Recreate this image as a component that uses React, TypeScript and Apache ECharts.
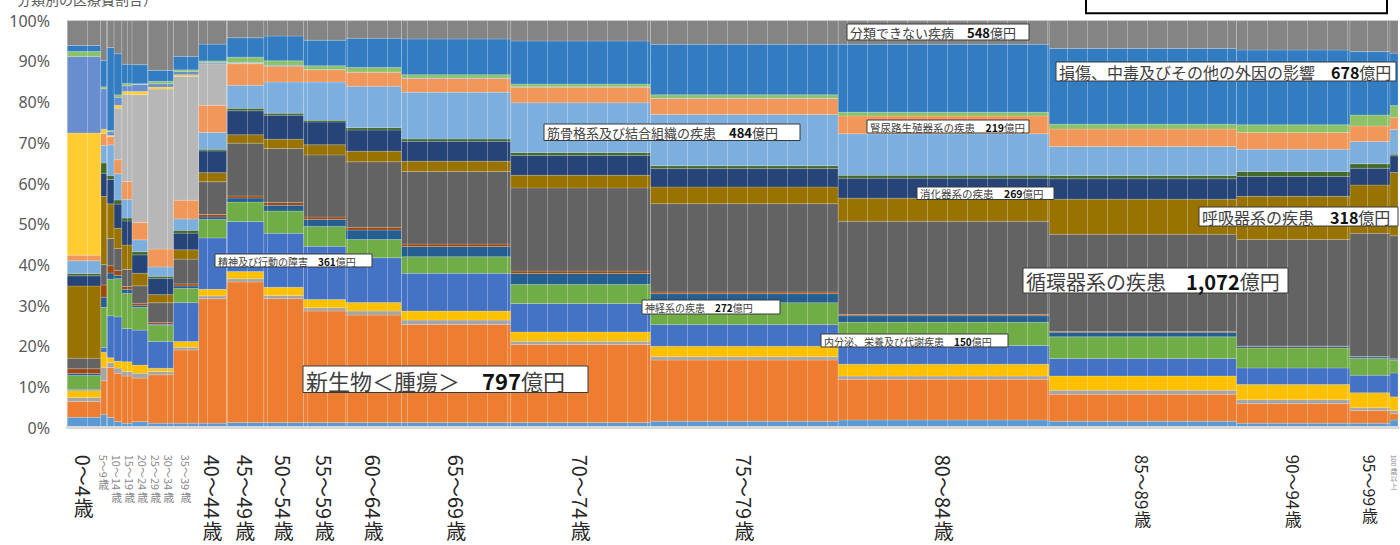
import React, { useEffect, useRef } from 'react';
import * as echarts from 'echarts';

// ---------------- data ----------------
const ageGroups = ['0～4歳', '5～9歳', '10～14歳', '15～19歳', '20～24歳', '25～29歳', '30～34歳', '35～39歳', '40～44歳', '45～49歳', '50～54歳', '55～59歳', '60～64歳', '65～69歳', '70～74歳', '75～79歳', '80～84歳', '85～89歳', '90～94歳', '95～99歳', '100歳以上'];

// medical cost per age group (億円, read from the column widths)
const costOku = [139, 25, 30, 32, 42, 66, 104, 104, 115, 154, 164, 174, 229, 450, 576, 773, 869, 772, 467, 165, 33];

const categoryNames = [
  '感染症及び寄生虫症', '新生物＜腫瘍＞', '血液及び造血器の疾患並びに免疫機構の障害', '内分泌、栄養及び代謝疾患',
  '精神及び行動の障害', '神経系の疾患', '眼及び付属器の疾患', '耳及び乳様突起の疾患', '循環器系の疾患',
  '呼吸器系の疾患', '消化器系の疾患', '皮膚及び皮下組織の疾患', '筋骨格系及び結合組織の疾患', '腎尿路生殖器系の疾患',
  '妊娠、分娩及び産じょく', '周産期に発生した病態', '先天奇形、変形及び染色体異常', '症状、徴候及び異常臨床所見等',
  '損傷、中毒及びその他の外因の影響', '分類できない疾病',
];

// share of each category within an age group (%)
const infectious = [2.55, 3.3, 2.5, 1.5, 1.1, 1.5, 1.1, 1.1, 1.1, 1.3, 1.3, 1.3, 1.3, 1.3, 1.3, 1.6, 1.9, 1.6, 1.1, 1.1, 1.9];
const neoplasms = [3.9, 8.2, 12.3, 12.0, 11.6, 10.7, 11.9, 18.0, 30.3, 34.6, 30.5, 27.4, 26.4, 24.1, 19.2, 15.0, 10.0, 6.6, 4.8, 3.1, 1.6];
const blood = [1.0, 3.3, 1.2, 1.3, 1.1, 1.2, 0.8, 0.7, 0.7, 0.8, 0.8, 0.8, 1.0, 1.1, 0.8, 0.8, 0.8, 1.0, 1.0, 0.7, 0.7];
const endocrine = [1.7, 3.7, 1.2, 1.7, 2.4, 2.0, 0.8, 1.4, 1.6, 1.8, 2.0, 2.0, 2.1, 2.2, 2.3, 2.6, 2.9, 3.5, 3.7, 3.7, 3.4];
const mental = [0.3, 1.2, 10.3, 11.0, 8.2, 8.6, 6.6, 9.6, 12.5, 12.3, 13.3, 13.1, 11.0, 9.3, 7.0, 5.3, 4.6, 4.3, 4.1, 4.3, 5.9];
const nervous = [3.4, 9.8, 9.0, 9.5, 8.6, 5.6, 3.9, 3.5, 4.5, 4.8, 5.5, 4.9, 4.5, 4.1, 4.7, 5.4, 5.7, 5.3, 4.9, 4.1, 3.1];
const eye = [0.5, 2.5, 1.5, 0.8, 1.0, 0.5, 0.3, 0.6, 0.6, 1.0, 1.4, 1.7, 2.3, 2.5, 2.7, 2.2, 1.6, 1.1, 0.4, 0.4, 0.3];
const ear = [1.2, 3.0, 1.8, 1.2, 0.7, 0.5, 0.4, 0.5, 0.6, 0.5, 0.7, 0.6, 0.7, 0.6, 0.6, 0.4, 0.3, 0.2, 0.1, 0.1, 0.1];
const circulatory = [2.6, 5.0, 6.7, 5.5, 4.2, 4.3, 4.9, 6.1, 8.0, 13.0, 13.3, 15.3, 16.1, 17.9, 20.5, 21.7, 22.9, 23.9, 26.2, 30.3, 30.3];
const respiratory = [17.8, 16.7, 8.5, 5.0, 6.0, 3.1, 2.0, 2.3, 2.2, 2.1, 2.3, 2.5, 2.6, 2.5, 3.1, 4.1, 5.7, 8.6, 10.6, 11.9, 15.6];
const digestive = [2.5, 5.7, 6.0, 6.0, 5.9, 4.5, 4.0, 4.1, 5.3, 5.9, 5.9, 5.6, 5.2, 4.9, 4.9, 4.5, 4.9, 5.0, 4.9, 4.1, 4.1];
const skin = [0.6, 2.5, 1.0, 1.0, 0.7, 0.8, 0.5, 0.7, 0.4, 0.6, 0.5, 0.4, 0.6, 0.6, 0.7, 0.7, 0.7, 0.8, 1.2, 1.1, 0.4];
const musculoskeletal = [3.1, 4.3, 7.5, 6.5, 4.6, 2.9, 2.3, 2.8, 4.1, 5.7, 7.7, 9.4, 10.2, 11.5, 12.3, 12.6, 10.2, 7.1, 5.5, 5.5, 6.1];
const genitourinary = [1.4, 2.9, 2.0, 3.5, 4.4, 4.3, 4.4, 4.6, 6.6, 5.3, 3.9, 3.0, 3.4, 3.4, 3.8, 3.9, 4.4, 4.3, 4.1, 3.8, 2.9];
const pregnancy = [0, 0, 0, 12.8, 21.4, 31.4, 39.3, 30.5, 10.1, 0.1, 0, 0, 0, 0, 0, 0, 0, 0, 0, 0, 0];
const perinatal = [30.1, 1.1, 0.3, 0.7, 0.7, 0.8, 0.5, 0.4, 0, 0, 0, 0, 0, 0, 0, 0, 0, 0, 0, 0, 0];
const congenital = [18.9, 9.9, 0.9, 2.0, 1.4, 1.7, 0.8, 0.8, 0.3, 0.2, 0.2, 0.1, 0.1, 0.1, 0.1, 0.1, 0, 0, 0, 0, 0];
const symptoms = [1.2, 0.5, 0.3, 0.6, 0.6, 0.2, 0.6, 0.4, 0.4, 1.3, 1.1, 0.9, 1.1, 0.8, 0.7, 0.8, 0.9, 1.2, 1.9, 2.7, 3.0];
const injury = [1.5, 6.4, 20.4, 10.2, 4.7, 4.7, 2.7, 3.3, 4.1, 4.8, 6.1, 6.3, 7.2, 8.8, 10.6, 12.4, 16.7, 18.6, 18.4, 15.6, 12.9];
const unclassified = [6.1, 9.8, 6.6, 8.2, 10.7, 10.8, 12.2, 8.8, 5.7, 4.2, 3.8, 4.8, 4.3, 4.5, 5.0, 5.8, 5.8, 6.8, 7.2, 7.6, 8.0];

const shareTable = [infectious, neoplasms, blood, endocrine, mental, nervous, eye, ear, circulatory, respiratory, digestive, skin, musculoskeletal, genitourinary, pregnancy, perinatal, congenital, symptoms, injury, unclassified];

// annotated totals (億円)
const annotationNames = ['分類できない疾病', '損傷、中毒及びその他の外因の影響', '筋骨格系及び結合組織の疾患', '腎尿路生殖器系の疾患', '消化器系の疾患', '呼吸器系の疾患', '循環器系の疾患', '精神及び行動の障害', '神経系の疾患', '内分泌、栄養及び代謝疾患', '新生物＜腫瘍＞'];
const annotationAmounts = [548, 678, 484, 219, 269, 318, 1072, 361, 272, 150, 797];

// ---------------- styles ----------------
const PALETTE = ['#5B9BD5', '#ED7D31', '#A5A5A5', '#FFC000', '#4472C4', '#70AD47', '#255E91', '#9E480E', '#636363', '#997300', '#264478', '#43682B', '#7CAFDD', '#F1975A', '#B7B7B7', '#FFCD33', '#698ED0', '#8CC168', '#327DC2', '#848484'];
const FONT = '"Noto Sans CJK JP", "Noto Sans", sans-serif';
// annotation box layout: [x, y, w, h, fontSize]
const annotationBoxes = [
  [847, 24, 182, 16, 13],
  [1056, 62, 340, 19, 16],
  [544, 124, 256, 16.5, 13],
  [867, 120, 162, 13, 10.5],
  [917, 187, 137, 12.5, 10.5],
  [1199, 207, 199, 19, 16],
  [1023, 268, 265, 25, 20],
  [215, 254, 157, 13, 10],
  [642, 300, 138, 14, 10],
  [821, 334, 187, 13, 10],
  [303, 366, 285, 26.5, 22],
];

const PLOT_LEFT = 67;
const PLOT_RIGHT = 1398;
const PLOT_TOP = 20.7;
const PLOT_BOTTOM = 427.7;

const labelSize = (i: number) => (i === 20 ? 7 : i >= 1 && i <= 7 ? 11 : i === 17 || i === 18 ? 17 : i === 19 ? 16 : 20);
const labelColor = (i: number) => (i === 20 || (i >= 1 && i <= 7) ? '#8a8a8a' : '#262626');

export default function App() {
  const ref = useRef<HTMLDivElement>(null);

  useEffect(() => {
    if (!ref.current) return;
    const chart = echarts.init(ref.current, undefined, { renderer: 'svg' });

    const total = costOku.reduce((a, b) => a + b, 0);
    const starts: number[] = [];
    let acc = 0;
    costOku.forEach((c) => {
      starts.push(acc);
      acc += c;
    });
    const colTotals = ageGroups.map((_, i) => shareTable.reduce((s, arr) => s + arr[i], 0));
    const cum = ageGroups.map(() => 0);

    const barSeries = shareTable.map((arr, k) => {
      const data = arr.map((v, i) => {
        const p = (v / colTotals[i]) * 100;
        const item = [starts[i], starts[i] + costOku[i], cum[i], cum[i] + p];
        cum[i] += p;
        return item;
      });
      const color = PALETTE[k];
      return {
        type: 'custom',
        name: categoryNames[k],
        data,
        encode: { x: [0, 1], y: [2, 3] },
        silent: true,
        z: 2,
        itemStyle: { color },
        renderItem: (params: any, api: any) => {
          const x0 = api.value(0);
          const x1 = api.value(1);
          const y0 = api.value(2);
          const y1 = api.value(3);
          if (y1 - y0 <= 0.001) return { type: 'group', children: [] };
          const a = api.coord([x0, y1]);
          const b = api.coord([x1, y0]);
          return {
            type: 'rect',
            shape: { x: a[0], y: a[1], width: b[0] - a[0], height: b[1] - a[1] },
            style: { fill: color, stroke: 'rgba(255,255,255,0.22)', lineWidth: 0.8 },
          };
        },
      };
    });

    // x label positions (column centres, small labels spread a little)
    const unitsPerPx = total / (PLOT_RIGHT - PLOT_LEFT);
    const centers = costOku.map((c, i) => starts[i] + c / 2);
    for (let i = 2; i <= 7; i++) {
      const minC = centers[i - 1] + 13 * unitsPerPx;
      if (centers[i] < minC) centers[i] = minC;
    }
    const ctx = document.createElement('canvas').getContext('2d') as CanvasRenderingContext2D;

    const labelSeries = {
      type: 'custom',
      name: 'ageLabels',
      silent: true,
      clip: false,
      z: 10,
      data: centers.map((c, i) => [c, 0, i]),
      encode: { x: 0, y: 1 },
      renderItem: (params: any, api: any) => {
        const i = api.value(2);
        const pt = api.coord([api.value(0), 0]);
        const text = ageGroups[i];
        const m = text.match(/^[0-9～]+/);
        const latin = m ? m[0] : '';
        const rest = text.slice(latin.length);
        const size = labelSize(i);
        const fill = labelColor(i);
        ctx.font = `${size}px "Noto Sans CJK JP"`;
        const L = ctx.measureText(latin).width;
        const y0 = pt[1] + 27;
        const children: any[] = [
          {
            type: 'text',
            x: pt[0],
            y: y0,
            rotation: -Math.PI / 2,
            style: { text: latin, fontSize: size, lineHeight: size, fontFamily: FONT, fill, align: 'left', verticalAlign: 'middle' },
          },
        ];
        rest.split('').forEach((ch, k) => {
          children.push({
            type: 'text',
            x: pt[0],
            y: y0 + L + 1 + k * (size + 0.5),
            style: { text: ch, fontSize: size, lineHeight: size, fontFamily: FONT, fill, align: 'center', verticalAlign: 'top' },
          });
        });
        return { type: 'group', children };
      },
    };

    const annotations = annotationNames.map((name, k) => {
      const [x, y, w, h, fs] = annotationBoxes[k];
      const amount = annotationAmounts[k].toLocaleString('en-US');
      return {
        type: 'group',
        z: 100,
        children: [
          {
            type: 'rect',
            z: 100,
            shape: { x, y, width: w, height: h },
            style: { fill: '#ffffff', stroke: '#3a3a3a', lineWidth: 1 },
          },
          {
            type: 'text',
            z: 101,
            x: x + 3,
            y: y + h / 2 + 0.5,
            style: {
              text: `{n|${name}　}{v|${amount}}{n|億円}`,
              verticalAlign: 'middle',
              align: 'left',
              rich: {
                n: { fontSize: fs, fontFamily: FONT, fill: '#404040', fontWeight: 'normal' },
                v: { fontSize: fs, fontFamily: FONT, fill: '#111111', fontWeight: 'bold' },
              },
            },
          },
        ],
      };
    });

    const option: any = {
      animation: false,
      textStyle: { fontFamily: FONT },
      grid: { left: PLOT_LEFT, right: 1400 - PLOT_RIGHT, top: PLOT_TOP, bottom: 545 - PLOT_BOTTOM, containLabel: false },
      xAxis: {
        type: 'value',
        min: 0,
        max: total,
        interval: 20 * unitsPerPx,
        z: 5,
        axisLabel: { show: false },
        axisTick: { show: false },
        axisLine: { show: true, lineStyle: { color: '#d9d9d9', width: 3 } },
        splitLine: { show: true, lineStyle: { color: 'rgba(255,255,255,0.3)', width: 1 } },
      },
      yAxis: {
        type: 'value',
        min: 0,
        max: 100,
        interval: 10,
        axisLabel: { formatter: '{value}%', color: '#595959', fontSize: 16, margin: 17, fontFamily: '"Noto Sans", sans-serif' },
        axisLine: { show: false },
        axisTick: { show: false },
        splitLine: { show: true, lineStyle: { color: '#d9d9d9' } },
      },
      series: [...barSeries, labelSeries],
      graphic: [
        ...annotations,
        {
          type: 'text',
          z: 100,
          x: 17,
          y: 6,
          style: { text: '分類別の医療費割合）', fontSize: 14, fontFamily: FONT, fill: '#595959', verticalAlign: 'bottom', align: 'left' },
        },
        {
          type: 'rect',
          z: 100,
          shape: { x: 1086, y: -10, width: 301, height: 23.3 },
          style: { fill: '#ffffff', stroke: '#000000', lineWidth: 2 },
        },
      ],
    };

    chart.setOption(option);
    return () => chart.dispose();
  }, []);

  return <div ref={ref} style={{ position: 'absolute', left: 0, top: 0, width: 1400, height: 545, background: '#ffffff' }} />;
}
